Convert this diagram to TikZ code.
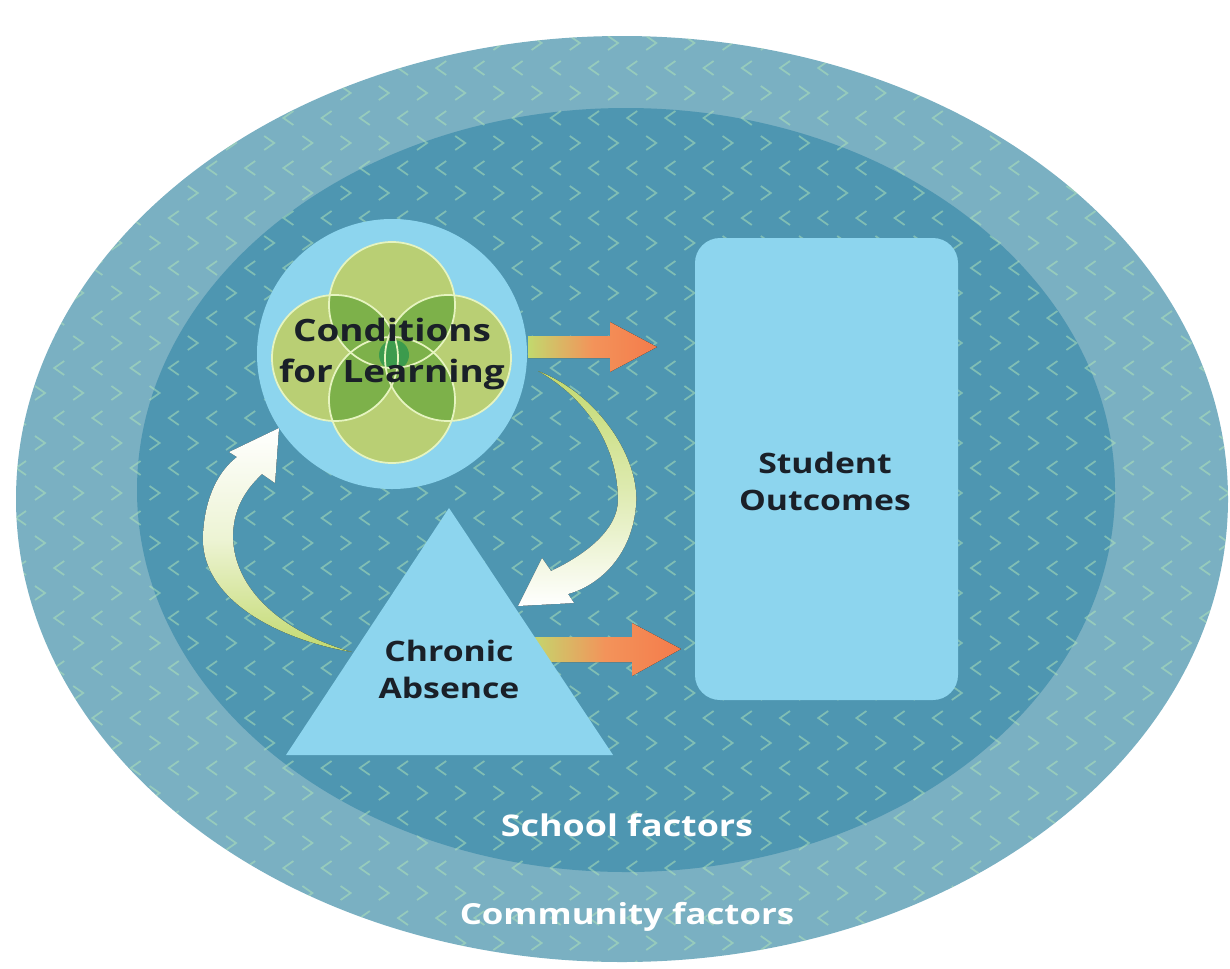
\documentclass[tikz,border=0pt]{standalone}
\usepackage{fontspec}
\newfontfamily\labelfont[FakeStretch=1.2]{Open Sans}
\usetikzlibrary{positioning}

\definecolor{communityblue}{HTML}{7AB0C2}
\definecolor{schoolblue}{HTML}{4E96B1}
\definecolor{shapeblue}{HTML}{8DD5EE}
\definecolor{vennlight}{HTML}{B9CF74}
\definecolor{vennmid}{HTML}{7DB14A}
\definecolor{venndark}{HTML}{3C9B4D}
\definecolor{vennline}{HTML}{E6F4C0}
\definecolor{arrowgreen}{HTML}{C2D96E}
\definecolor{arrowpeach}{HTML}{F3935A}
\definecolor{arroworange}{HTML}{F47B4B}
\definecolor{chevron}{HTML}{B2E6B8}
\definecolor{labeltext}{HTML}{1A2028}

\tikzset{
  shapefill/.style={fill=shapeblue, draw=none},
  boxlabel/.style={font=\labelfont\bfseries\fontsize{16}{21}\selectfont, text=labeltext, align=center},
  ringlabel/.style={font=\labelfont\bfseries\fontsize{17}{20}\selectfont, text=white},
  chev/.style={draw=chevron, draw opacity=0.5, line width=0.35mm},
  vennring/.style={draw=vennline, line width=0.35mm},
  orangearrow/.style={left color=arrowgreen, right color=arroworange, middle color=arrowpeach},
}

\begin{document}
\begin{tikzpicture}[x=0.2mm, y=-0.2mm]
  \useasboundingbox (0,0) rectangle (1230,968);

  % community and school rings
  \fill[communityblue] (622,499) ellipse [x radius=606, y radius=463];
  \fill[schoolblue] (626,490) ellipse [x radius=489, y radius=382];

  % chevron texture
  \begin{scope}
    \clip (622,499) ellipse [x radius=606, y radius=463];
    \draw[chev] \foreach \r in {0,...,20} {
      \foreach \k in {0,...,32} {
        ({1.8+38.2*\k-5},{-7+50*\r-7}) -- ++(10,7) -- ++(-10,7)
        ({21+38.2*\k+5},{18+50*\r-7}) -- ++(-10,7) -- ++(10,7)
      }
    };
  \end{scope}

  % straight arrows to outcomes
  \fill[orangearrow] (528,336) -- (610,336) -- (610,322) -- (657,347)
    -- (610,372) -- (610,358) -- (528,358) -- cycle;
  \fill[orangearrow] (530,637) -- (632,637) -- (632,623) -- (681,649)
    -- (632,676) -- (632,662) -- (530,662) -- cycle;

  % curved arrow: conditions -> absence
  \fill[top color=arrowgreen, bottom color=white, middle color=arrowgreen!55!white]
    (538,371) .. controls (600,395) and (640,460) .. (636,505)
    .. controls (632,555) and (600,585) .. (568,594)
    -- (574,603) -- (518,606) -- (542,558) -- (551,571)
    .. controls (585,555) and (618,530) .. (618,500)
    .. controls (618,450) and (590,400) .. (538,371) -- cycle;

  % curved arrow: absence -> conditions
  \fill[top color=white, bottom color=arrowgreen, middle color=white!70!arrowgreen]
    (352,652) .. controls (280,640) and (200,600) .. (203,535)
    .. controls (205,495) and (220,470) .. (237,457)
    -- (229,452) -- (279,428) -- (275,483) -- (262,474)
    .. controls (245,490) and (232,510) .. (233,540)
    .. controls (236,595) and (290,635) .. (352,652) -- cycle;

  % conditions for learning
  \node[circle, shapefill, minimum size=54mm] (cfl) at (392,354) {};
  \coordinate (vt) at (392,305);
  \coordinate (vb) at (392,400);
  \coordinate (vl) at (335,358);
  \coordinate (vr) at (448,358);
  \foreach \v in {vt,vb,vl,vr}
    \fill[vennlight] (\v) circle [radius=63];
  \foreach \p/\q in {vt/vl,vt/vr,vb/vl,vb/vr,vt/vb,vl/vr} {
    \begin{scope}
      \clip (\p) circle [radius=63];
      \fill[vennmid] (\q) circle [radius=63];
    \end{scope}
  }
  \begin{scope}
    \clip (vt) circle [radius=63];
    \clip (vb) circle [radius=63];
    \fill[venndark] (394,355) circle [radius=15];
  \end{scope}
  \foreach \v in {vt,vb,vl,vr}
    \draw[vennring] (\v) circle [radius=63];
  \node[boxlabel, font=\labelfont\bfseries\fontsize{17.5}{23}\selectfont] (cfltext) at (cfl.center) {Conditions\\for Learning};

  % student outcomes
  \node[shapefill, rounded corners=5mm, minimum width=52.6mm, minimum height=92.4mm] (outcomes) at (826.5,469) {};
  \node[boxlabel] (outcomestext) at (825,481) {Student\\Outcomes};

  % chronic absence
  \fill[shapefill] (449,508) -- (286,755) -- (613,755) -- cycle;
  \node[boxlabel] (absence) at (449,669) {Chronic\\Absence};

  % ring labels
  \node[ringlabel] (school) at (627,825) {School factors};
  \node[ringlabel, font=\labelfont\bfseries\fontsize{16.5}{20}\selectfont] (community) at (627,917) {Community factors};
\end{tikzpicture}
\end{document}
